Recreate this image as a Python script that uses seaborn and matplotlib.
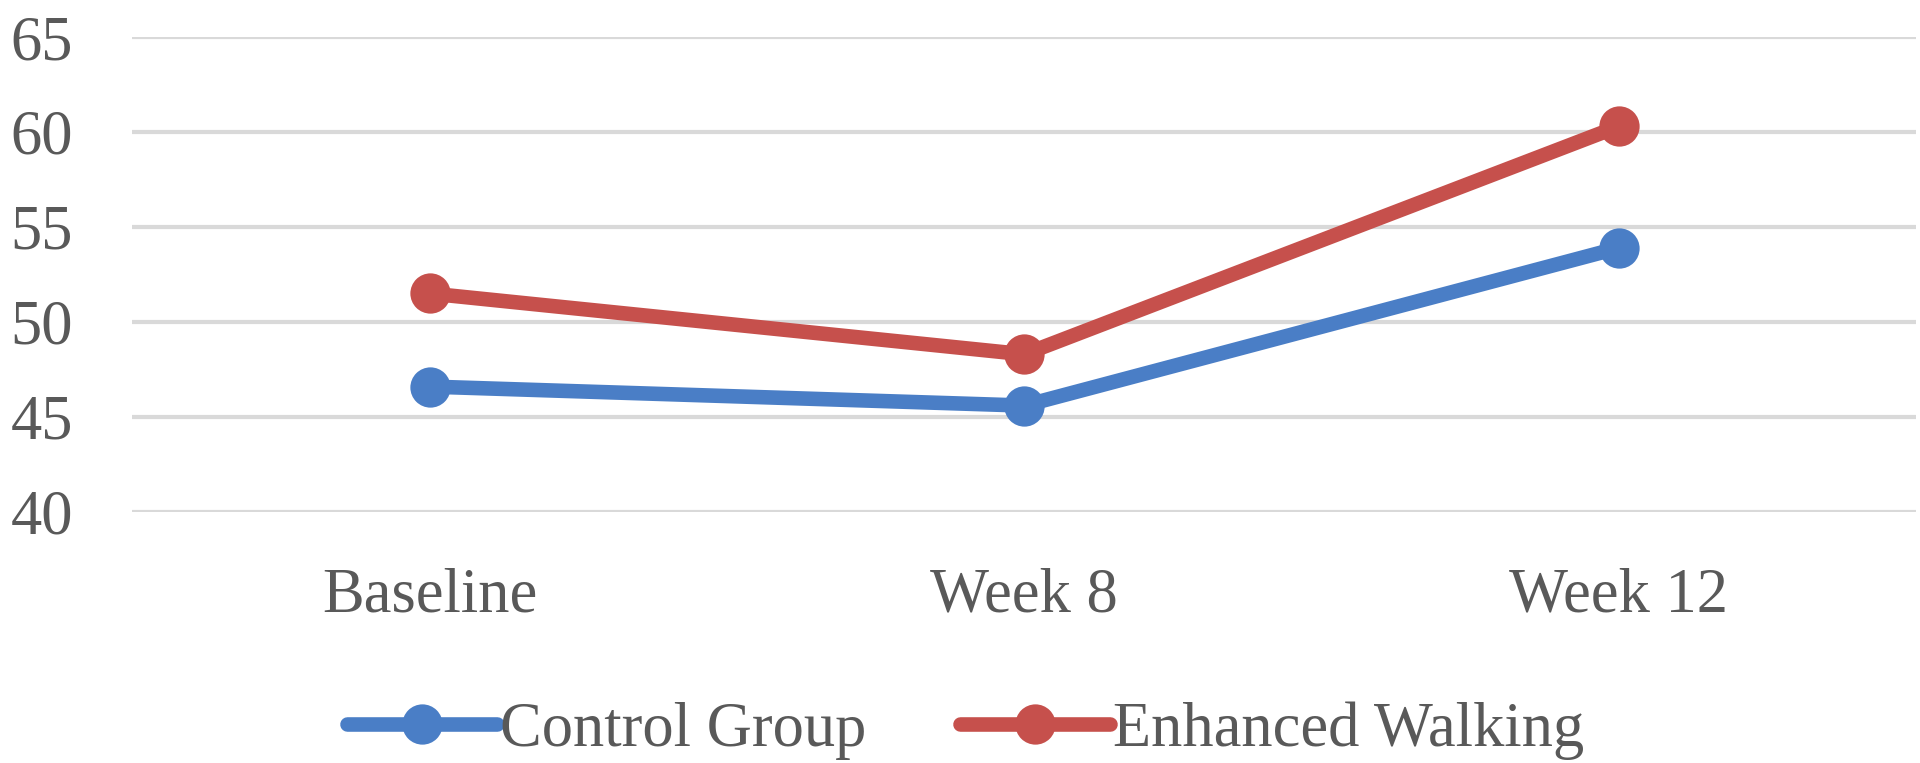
import matplotlib.pyplot as plt
import seaborn as sns
import pandas as pd
from matplotlib.lines import Line2D

sns.set_style('white')
plt.rcParams['font.family'] = ['Liberation Serif', 'DejaVu Serif']

# values
timepoints = ['Baseline', 'Week 8', 'Week 12']
control = [46.6, 45.6, 53.9]
enhanced = [51.5, 48.3, 60.3]
groups = ['Control Group', 'Enhanced Walking']
colors = ['#4a7ec6', '#c6504c']

df = pd.DataFrame({
    'time': timepoints * 2,
    'score': control + enhanced,
    'group': [groups[0]] * 3 + [groups[1]] * 3,
})

fig = plt.figure(figsize=(19.2, 7.63), dpi=100)
ax = fig.add_axes([0.069, 0.329, 0.929, 0.6225])

sns.lineplot(data=df, x='time', y='score', hue='group', palette=colors,
             marker='o', markersize=29, linewidth=10.5, markeredgewidth=0,
             sort=False, legend=False, ax=ax)

ax.set_ylim(40, 65)
ax.set_yticks(range(40, 66, 5))
ax.set_xlim(-0.5, 2.5)
ax.yaxis.grid(True, color='#d9d9d9', linewidth=3)
ax.set_axisbelow(True)
for s in ax.spines.values():
    s.set_visible(False)
ax.set_xlabel('')
ax.set_ylabel('')
ax.tick_params(axis='both', labelsize=45, colors='#595959', length=0)
ax.tick_params(axis='x', pad=40)
ax.tick_params(axis='y', pad=88)
for lab in ax.get_yticklabels():
    lab.set_horizontalalignment('left')

handles = [Line2D([], [], color=c, linewidth=10.5, marker='o', markersize=29,
                  markeredgewidth=0) for c in colors]
fig.legend(handles, groups, loc='center', bbox_to_anchor=(0.503, 0.042), ncol=2,
           frameon=False, fontsize=45, labelcolor='#595959',
           handlelength=2.4, handletextpad=0.05, columnspacing=1.5)

fig.savefig('out.png', dpi=100, facecolor='white')
